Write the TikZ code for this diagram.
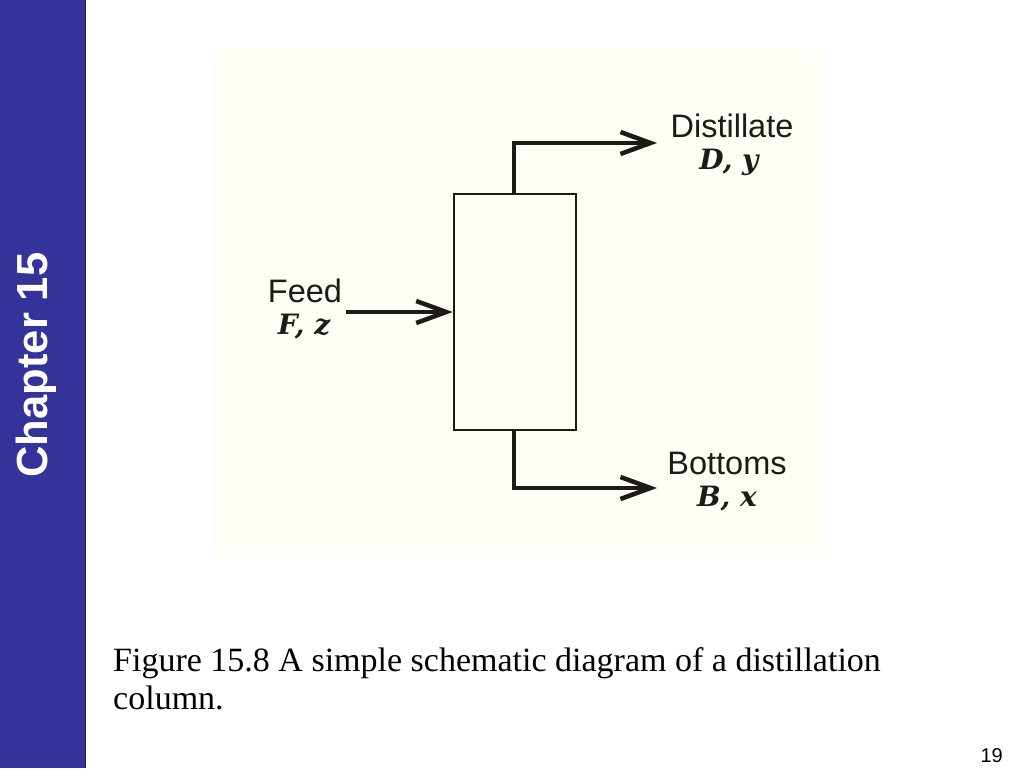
\documentclass[tikz,border=0pt]{standalone}
\usepackage{fontspec}
\setmainfont{Liberation Serif}
\setsansfont{Liberation Sans}
\newfontfamily\symfont{DejaVu Serif}
\usetikzlibrary{arrows.meta}
\definecolor{barblue}{HTML}{333399}
\definecolor{scanbg}{HTML}{FEFEF7}
\definecolor{ink}{HTML}{1E1A18}
\tikzset{
  flow/.style={line width=4pt, draw=ink, -{Straight Barb[length=30pt,width=22pt,line width=4.5pt]}},
  pipe/.style={line width=4pt, draw=ink},
  lbl/.style={font=\sffamily\fontsize{32.5}{34}\selectfont, text=ink, inner sep=0pt},
  sym/.style={font=\symfont\bfseries\itshape\fontsize{28}{30}\selectfont, text=ink, inner sep=0pt},
}
\begin{document}
\begin{tikzpicture}[x=1pt,y=-1pt]
\useasboundingbox (0,0) rectangle (1024,768);
\fill[white] (0,0) rectangle (1024,768);
% side bar
\fill[barblue] (0,0) rectangle (85,768);
\draw[barblue!60!black, line width=1pt] (85,0) -- (85,768);
\node[rotate=90, text=white, font=\sffamily\bfseries\fontsize{43.5}{46}\selectfont, inner sep=0pt] (chap) at (36,365) {Chapter 15};
% scanned figure background
\fill[scanbg] (213,50) rectangle (828,557);
% column
\node[draw=ink, line width=2.5pt, minimum width=122pt, minimum height=236pt, inner sep=0pt] (col) at (515,312) {};
% coordinates
\coordinate (feedstart) at (346,312);
\coordinate (topbend) at (514,143);
\coordinate (topend) at (657,143);
\coordinate (botbend) at (514,488);
\coordinate (botend) at (657,488);
% feed
\draw[flow] (feedstart) -- (col.west);
% distillate
\draw[pipe] (col.north -| topbend) -- (topbend);
\draw[flow] ([xshift=-2pt]topbend) -- (topend);
% bottoms
\draw[pipe] (col.south -| botbend) -- (botbend);
\draw[flow] ([xshift=-2pt]botbend) -- (botend);
% labels
\node[lbl] (dist) at (732,126) {Distillate};
\node[sym] (dy) at (729,162) {D, y};
\node[lbl] (feed) at (305,291) {Feed};
\node[sym] (fz) at (304,327) {F, z};
\node[lbl] (bott) at (727,463) {Bottoms};
\node[sym] (bx) at (727,499) {B, x};
% caption
\node[anchor=base west, inner sep=0pt, font=\rmfamily\fontsize{34}{38}\selectfont] (cap1) at (113,671) {Figure 15.8 A simple schematic diagram of a distillation};
\node[anchor=base west, inner sep=0pt, font=\rmfamily\fontsize{34}{38}\selectfont] (cap2) at (113,709) {column.};
\node[anchor=base east, inner sep=0pt, font=\sffamily\fontsize{20}{22}\selectfont] (pg) at (1003,762) {19};
\end{tikzpicture}
\end{document}
